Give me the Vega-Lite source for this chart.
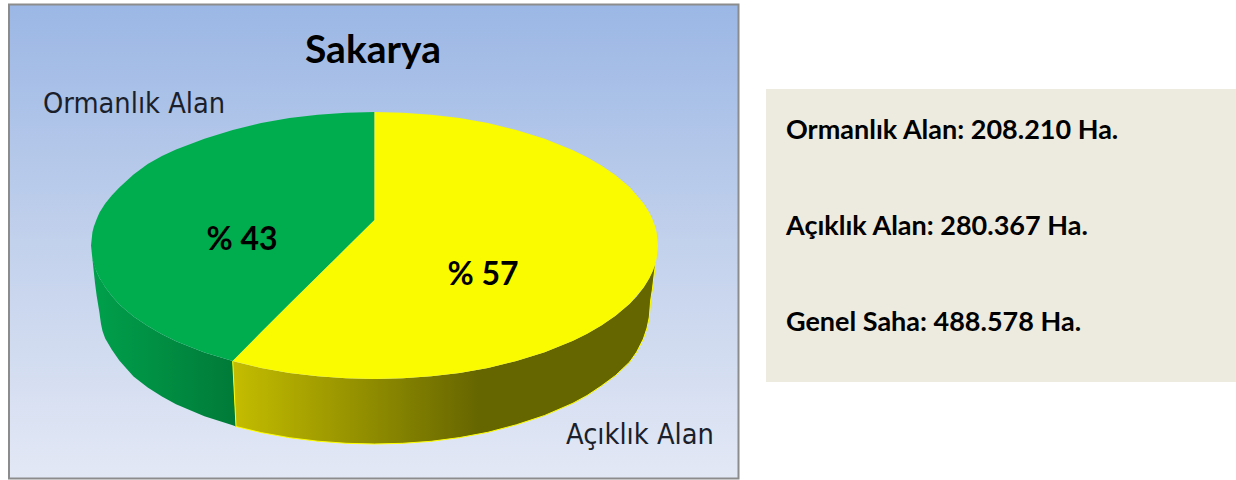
{
"$schema":"https://vega.github.io/schema/vega-lite/v6.json",
"width":1236,"height":480,"padding":0,"autosize":{"type":"none"},
"background":"white",
"view":{"stroke":null},
"datasets":{
"frame":[{"x":9,"x2":738.5,"y":4.5,"y2":478.5}],
"panel":[{"x":766,"x2":1236,"y":89,"y2":382}],
"wallGreen":[
{"i":1,"x":92.4,"y":258.8,"y2":258.8},{"i":2,"x":95,"y":266.5,"y2":283},{"i":3,"x":96.7,"y":272.1,"y2":296},{"i":4,"x":99.5,"y":277.9,"y2":313},{"i":5,"x":100,"y":279,"y2":317},{"i":6,"x":101,"y":280.3,"y2":324},{"i":7,"x":102.5,"y":282.5,"y2":331},{"i":8,"x":105.2,"y":287.2,"y2":338.5},{"i":9,"x":111.7,"y":295.8,"y2":349.5},{"i":10,"x":119.3,"y":304.5,"y2":360.5},{"i":11,"x":133.5,"y":316.5,"y2":376.5},{"i":12,"x":147.7,"y":326,"y2":387.5},{"i":13,"x":161.9,"y":334.2,"y2":396.5},{"i":14,"x":176,"y":341.2,"y2":404.2},{"i":15,"x":204.4,"y":352.4,"y2":416.3},{"i":16,"x":232.7,"y":361.1,"y2":425.2},{"i":17,"x":236,"y":426.5,"y2":426.5}],
"wallYellow":[
{"i":1,"x":232.7,"y":361.1,"y2":361.1},{"i":2,"x":236,"y":361.9,"y2":426.5},{"i":3,"x":261.1,"y":367.9,"y2":432.6},{"i":4,"x":289.4,"y":372.9,"y2":437.7},{"i":5,"x":317.8,"y":376.3,"y2":441.2},{"i":6,"x":346.1,"y":378.3,"y2":443.3},{"i":7,"x":374.5,"y":379,"y2":444},{"i":8,"x":402.9,"y":378.3,"y2":443.3},{"i":9,"x":431.2,"y":376.3,"y2":441.3},{"i":10,"x":459.6,"y":372.9,"y2":437.6},{"i":11,"x":487.9,"y":367.9,"y2":432.3},{"i":12,"x":516.3,"y":361.1,"y2":424.8},{"i":13,"x":544.6,"y":352.3,"y2":415.5},{"i":14,"x":573,"y":340.8,"y2":403.2},{"i":15,"x":587.1,"y":333.8,"y2":395.5},{"i":16,"x":601.3,"y":325.6,"y2":386},{"i":17,"x":615.5,"y":315.8,"y2":375.5},{"i":18,"x":629.7,"y":303.7,"y2":362},{"i":19,"x":636.7,"y":296.5,"y2":352},{"i":20,"x":643.3,"y":288,"y2":339},{"i":21,"x":647,"y":282,"y2":328},{"i":22,"x":649.3,"y":278,"y2":317},{"i":23,"x":650.7,"y":275,"y2":300},{"i":24,"x":652.3,"y":272.1,"y2":290},{"i":25,"x":655.5,"y":263.5,"y2":263.5}],
"topGreen":[
{"i":1,"x":91,"y":245.5,"y2":245.5},{"i":2,"x":92.4,"y":232.2,"y2":258.8},{"i":3,"x":93.8,"y":226.7,"y2":264.3},{"i":4,"x":96.7,"y":218.9,"y2":272.1},{"i":5,"x":99.5,"y":212.5,"y2":277.9},{"i":6,"x":105.2,"y":203.5,"y2":287.2},{"i":7,"x":111.7,"y":195.5,"y2":295.8},{"i":8,"x":119.3,"y":187.5,"y2":304.5},{"i":9,"x":133.5,"y":174.5,"y2":316.5},{"i":10,"x":147.7,"y":164,"y2":326},{"i":11,"x":161.9,"y":156,"y2":334.2},{"i":12,"x":176,"y":149.5,"y2":341.2},{"i":13,"x":204.4,"y":138.7,"y2":352.4},{"i":14,"x":232.7,"y":129.9,"y2":361.1},{"i":15,"x":261.1,"y":123.1,"y2":332.2},{"i":16,"x":289.4,"y":118.1,"y2":304.1},{"i":17,"x":317.8,"y":114.7,"y2":276.1},{"i":18,"x":346.1,"y":112.7,"y2":248.1},{"i":19,"x":374.5,"y":112,"y2":220}],
"topYellow":[
{"i":1,"x":232.7,"y":361.1,"y2":361.1},{"i":2,"x":261.1,"y":332.2,"y2":367.9},{"i":3,"x":289.4,"y":304.1,"y2":372.9},{"i":4,"x":317.8,"y":276.1,"y2":376.3},{"i":5,"x":346.1,"y":248.1,"y2":378.3},{"i":6,"x":374.5,"y":220,"y2":379},{"i":7,"x":374.5,"y":112,"y2":379},{"i":8,"x":402.9,"y":112.7,"y2":378.3},{"i":9,"x":431.2,"y":114.7,"y2":376.3},{"i":10,"x":459.6,"y":118.1,"y2":372.9},{"i":11,"x":487.9,"y":123.1,"y2":367.9},{"i":12,"x":516.3,"y":129.9,"y2":361.1},{"i":13,"x":544.6,"y":138.7,"y2":352.3},{"i":14,"x":573,"y":150.2,"y2":340.8},{"i":15,"x":587.1,"y":157.2,"y2":333.8},{"i":16,"x":601.3,"y":165.4,"y2":325.6},{"i":17,"x":615.5,"y":175.2,"y2":315.8},{"i":18,"x":629.7,"y":187.3,"y2":303.7},{"i":19,"x":643.8,"y":203.8,"y2":287.2},{"i":20,"x":649.5,"y":213.1,"y2":277.9},{"i":21,"x":652.3,"y":218.9,"y2":272.1},{"i":22,"x":655.2,"y":226.7,"y2":264.3},{"i":23,"x":656.6,"y":232.2,"y2":258.8},{"i":24,"x":658,"y":245.5,"y2":245.5}],
"title":[{"t":"Sakarya","x":373,"y":63}],
"shares":[{"t":"% 43","x":242,"y":250},{"t":"% 57","x":483,"y":285}],
"names":[{"t":"Ormanlık Alan","x":43,"y":113},{"t":"Açıklık Alan","x":566,"y":444}],
"notes":[{"t":"Ormanlık Alan: 208.210 Ha.","x":786,"y":139},{"t":"Açıklık Alan: 280.367 Ha.","x":786,"y":235},{"t":"Genel Saha: 488.578 Ha.","x":786,"y":331}]
},
"encoding":{
"x":{"field":"x","type":"quantitative","scale":{"domain":[0,1236],"nice":false,"zero":false},"axis":null},
"y":{"field":"y","type":"quantitative","scale":{"domain":[480,0],"nice":false,"zero":false},"axis":null}
},
"layer":[
{"data":{"name":"frame"},"mark":{"type":"rect","stroke":"#8c8c8c","strokeWidth":2,"color":{"gradient":"linear","x1":0,"y1":0,"x2":0,"y2":1,"stops":[{"offset":0,"color":"#9bb7e5"},{"offset":0.5,"color":"#c2d1ec"},{"offset":1,"color":"#e3e8f5"}]}},"encoding":{"x2":{"field":"x2"},"y2":{"field":"y2"}}},
{"data":{"name":"panel"},"mark":{"type":"rect","color":"#edebe0"},"encoding":{"x2":{"field":"x2"},"y2":{"field":"y2"}}},
{"data":{"name":"wallGreen"},"mark":{"type":"area","orient":"vertical","color":{"gradient":"linear","x1":0,"y1":0,"x2":1,"y2":0,"stops":[{"offset":0,"color":"#00a04c"},{"offset":1,"color":"#007a38"}]}},"encoding":{"y2":{"field":"y2"}}},
{"data":{"name":"wallYellow"},"mark":{"type":"area","orient":"vertical","color":{"gradient":"linear","x1":0,"y1":0,"x2":1,"y2":0,"stops":[{"offset":0,"color":"#c4bd00"},{"offset":0.58,"color":"#666600"},{"offset":1,"color":"#666600"}]}},"encoding":{"y2":{"field":"y2"}}},
{"data":{"name":"wallYellow"},"mark":{"type":"line","color":"#ffff00","strokeWidth":1},"encoding":{"y":{"field":"y2","type":"quantitative"},"order":{"field":"i","type":"quantitative"}}},
{"data":{"name":"topGreen"},"mark":{"type":"area","orient":"vertical","color":"#00ad4e"},"encoding":{"y2":{"field":"y2"}}},
{"data":{"name":"topYellow"},"mark":{"type":"area","orient":"vertical","color":"#fbfb00"},"encoding":{"y2":{"field":"y2"}}},
{"data":{"name":"title"},"mark":{"type":"text","font":"Lato","fontWeight":"bold","fontSize":39,"align":"center","baseline":"alphabetic","color":"#000000"},"encoding":{"text":{"field":"t"}}},
{"data":{"name":"shares"},"mark":{"type":"text","font":"Lato","fontWeight":"bold","fontSize":32,"align":"center","baseline":"alphabetic","color":"#000000"},"encoding":{"text":{"field":"t"}}},
{"data":{"name":"names"},"mark":{"type":"text","font":"DejaVu Sans Condensed","fontSize":28.7,"align":"left","baseline":"alphabetic","color":"#1a1f2b"},"encoding":{"text":{"field":"t"}}},
{"data":{"name":"notes"},"mark":{"type":"text","font":"Lato","fontWeight":"bold","fontSize":27,"align":"left","baseline":"alphabetic","color":"#000000"},"encoding":{"text":{"field":"t"}}}
]
}
